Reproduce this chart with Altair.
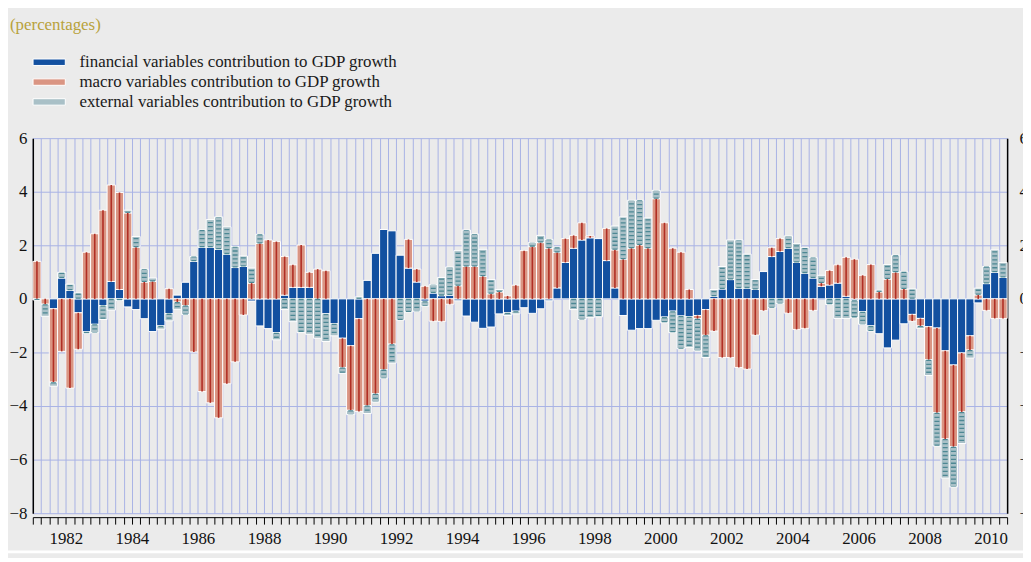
import altair as alt
import pandas as pd

start_year = 1981
year_labels = [1982, 1984, 1986, 1988, 1990, 1992, 1994, 1996, 1998, 2000, 2002, 2004, 2006, 2008, 2010]
y_ticks = [-8, -6, -4, -2, 0, 2, 4, 6]
series_names = [
    "financial variables contribution to GDP growth",
    "macro variables contribution to GDP growth",
    "external variables contribution to GDP growth",
]

# quarterly contributions, 1981Q1 .. 2010Q2
financial = [
    0, 0, -0.37, 0.78, 0.32, -0.52, -1.23, -0.95, -0.25, 0.65,
    0.35, -0.3, -0.4, -0.74, -1.22, -1.01, -0.55, 0.14, 0.62, 1.4,
    1.93, 1.93, 1.85, 1.67, 1.17, 1.21, -0.08, -1.01, -1.11, -1.26,
    0.14, 0.43, 0.43, 0.43, 0, -0.56, -0.93, -1.47, -1.75, -0.74,
    0.69, 1.7, 2.59, 2.54, 1.63, 1.15, 0.63, -0.09, 0.22, 0.12,
    0.14, -0.07, -0.64, -0.87, -1.1, -1.05, -0.56, -0.52, -0.46, -0.33,
    -0.54, -0.37, -0.07, 0.41, 1.36, 1.89, 2.2, 2.28, 2.25, 1.43,
    0.41, -0.62, -1.17, -1.11, -1.11, -0.8, -0.68, -0.46, -0.64, -0.67,
    -0.62, -0.4, 0.1, 0.37, 0.72, 0.4, 0.4, 0.35, 1.02, 1.58,
    1.77, 1.89, 1.36, 0.96, 0.78, 0.47, 0.52, 0.59, 0.1, -0.05,
    -0.48, -1.01, -1.3, -1.83, -1.54, -0.93, -0.58, -0.73, -1.04, -1.09,
    -1.94, -2.47, -2.02, -1.38, -0.15, 0.57, 0.99, 0.8,
]
macro = [
    1.4, -0.2, -2.74, -1.96, -3.33, -1.36, 1.74, 2.43, 3.31, 3.6,
    3.62, 3.21, 1.93, 0.63, 0.65, 0, 0.38, -0.12, -0.25, -1.98,
    -3.46, -3.88, -4.44, -3.17, -2.35, -0.6, 0.59, 2.07, 2.2, 2.14,
    1.44, 0.84, 1.58, 0.56, 1.11, 1.05, 0, -1.09, -2.41, -3.46,
    -3.98, -3.54, -2.64, -1.69, 0, 1.07, 0.48, 0.47, -0.83, -0.84,
    -0.2, 0.49, 1.21, 1.21, 0.84, 0.19, 0.26, 0.11, 0.51, 1.8,
    1.95, 2.1, 1.89, 1.32, 0.89, 0.48, 0.64, 0.07, 0, 1.2,
    1.42, 1.48, 1.89, 2.01, 1.89, 3.74, 2.84, 1.89, 1.74, 0.35,
    -0.12, -0.96, -1.2, -2.19, -2.19, -2.56, -2.62, -1.35, -0.44, 0.33,
    0.48, -0.53, -1.14, -1.1, -0.43, 0.12, 0.54, 0.68, 1.45, 1.48,
    0.88, 1.28, 0.26, 0.74, 0.99, 0.37, -0.25, -0.28, -1.23, -3.16,
    -3.29, -3.05, -2.2, -0.53, 0.15, -0.43, -0.73, -0.73,
]
external = [
    -0.04, -0.45, -0.15, 0.21, 0.23, 0.22, -0.05, -0.31, -0.52, -0.42,
    -0.06, 0.1, 0.4, 0.48, 0.13, -0.12, -0.27, -0.27, -0.33, 0.18,
    0.64, 1.03, 1.21, 1.02, 0.78, 0.39, 0.56, 0.34, 0, -0.27,
    -0.4, -0.85, -1.26, -1.32, -1.47, -1.03, -0.45, -0.22, -0.16, 0.07,
    -0.3, -0.31, -0.32, -0.71, -0.79, -0.49, -0.46, -0.18, 0.31, 0.68,
    1.05, 1.31, 1.36, 1.21, 1.01, 0.53, 0.09, -0.1, -0.1, 0,
    0.15, 0.27, 0.33, 0.2, 0, -0.4, -0.77, -0.7, -0.67, 0,
    0.89, 1.58, 1.79, 1.67, 1.13, 0.31, -0.21, -0.8, -1.22, -1.14,
    -1.2, -0.83, 0.25, 0.84, 1.48, 1.8, 1.27, 0.37, 0, -0.33,
    -0.17, 0.46, 0.71, 0.95, 0.76, 0.29, -0.21, -0.73, -0.73, -0.65,
    -0.47, -0.19, 0.06, 0.54, 0.64, 0.64, 0.37, -0.09, -0.59, -1.24,
    -1.46, -1.5, -1.18, -0.3, 0.25, 0.64, 0.84, 0.56,
]

n_quarters = len(financial)

# diverging stack: financial nearest zero, then macro, then external
rows = []
for i in range(n_quarters):
    pos, neg = 0.0, 0.0
    for k, vals in enumerate([financial, macro, external]):
        v = vals[i]
        if v == 0:
            continue
        if v > 0:
            y0, y1 = pos, pos + v
            pos += v
        else:
            y0, y1 = neg, neg + v
            neg += v
        rows.append(dict(q=i, x0=i, x1=i + 1, xc=i + 0.5, series=series_names[k],
                         order=k, value=v, y0=y0, y1=y1))
df = pd.DataFrame(rows)

BLUE = "#1250a0"
SALMON = "#da9583"
RED = "#b02e24"
EXT = "#a9c0c7"
EXTD = "#4d8894"
GRID = "#a8b2e5"
FONT = "Liberation Serif"

xscale = alt.Scale(domain=[0, n_quarters], nice=False, zero=False)
yscale = alt.Scale(domain=[-8, 6], nice=False, zero=False)

label_pos = [4 * (y - start_year) for y in year_labels]
label_expr = (
    "indexof([" + ",".join(str(p) for p in label_pos) + "], datum.value) >= 0 ? "
    f"'' + ({start_year} + datum.value / 4) : ''"
)

x_axis = alt.Axis(
    values=list(range(0, n_quarters + 1)), labelExpr=label_expr, title=None,
    grid=True, gridColor=GRID, gridWidth=1,
    domainColor="black", domainWidth=1, tickColor="black", tickWidth=1,
    tickSize=7, offset=4, labelFont=FONT, labelFontSize=17, labelColor="#111111",
    labelPadding=7, labelOverlap=False, labelFlush=False, labelBound=False,
)
y_left = alt.Axis(
    values=y_ticks, title=None, orient="left", grid=True, gridColor=GRID, gridWidth=1,
    domainColor="black", domainWidth=1.5, ticks=False, tickSize=0,
    labelFont=FONT, labelFontSize=17, labelColor="#111111", labelPadding=6,
)
y_right = alt.Axis(
    values=y_ticks, title=None, orient="right", grid=False,
    domainColor="black", domainWidth=1.5, ticks=False, tickSize=0,
    labelFont=FONT, labelFontSize=17, labelColor="#111111", labelPadding=12,
)
legend = alt.Legend(
    orient="none", legendX=8, legendY=-85, title=None, padding=0,
    symbolType="M-2.5,-0.5H2.5V0.5H-2.5Z", symbolSize=169,
    symbolStrokeColor="white", symbolStrokeWidth=1, symbolOpacity=1,
    labelFont=FONT, labelFontSize=17, labelColor="#1a1a1a", labelOffset=22,
    labelLimit=600, rowPadding=2,
)

bars = alt.Chart(df).mark_rect(stroke="white", strokeWidth=1, opacity=1).encode(
    x=alt.X("x0:Q", scale=xscale, axis=x_axis),
    x2="x1:Q",
    y=alt.Y("y0:Q", scale=yscale, axis=y_left),
    y2="y1:Q",
    color=alt.Color("series:N",
                    scale=alt.Scale(domain=series_names, range=[BLUE, SALMON, EXT]),
                    legend=legend),
)

red_stripes = alt.Chart(df).transform_filter(alt.datum.order == 1).mark_rule(
    color=RED, strokeWidth=1.6
).encode(
    x=alt.X("xc:Q", scale=xscale, axis=x_axis),
    y=alt.Y("y0:Q", scale=yscale, axis=None),
    y2="y1:Q",
)

ext_stripes = alt.Chart(df).transform_filter(alt.datum.order == 2).mark_rule(
    color=EXTD, strokeWidth=5, strokeDash=[1.3, 2.7], strokeCap="butt"
).encode(
    x=alt.X("xc:Q", scale=xscale, axis=x_axis),
    y=alt.Y("y0:Q", scale=yscale, axis=y_right),
    y2="y1:Q",
)

subtitle = alt.Chart(pd.DataFrame({"t": ["(percentages)"]})).mark_text(
    align="left", baseline="alphabetic", font=FONT, fontSize=17, color="#b8a23c"
).encode(text="t:N", x=alt.value(-23), y=alt.value(-109))

# white separator line near the bottom edge of the panel
footer_line = alt.Chart(pd.DataFrame({"k": [0]})).mark_rule(
    color="white", strokeWidth=3
).encode(x=alt.value(-30), x2=alt.value(1010), y=alt.value(417))

chart = (
    alt.layer(bars, red_stripes, ext_stripes, subtitle, footer_line)
    .resolve_scale(y="independent")
    .properties(
        width=982, height=378,
        autosize=alt.AutoSizeParams(type="none"),
        padding={"left": 25, "top": 129, "right": 16, "bottom": 43},
        background="#ebebeb",
    )
    .configure_view(stroke=None)
)

chart.save("out.html", embed_options={"renderer": "svg", "actions": False})
